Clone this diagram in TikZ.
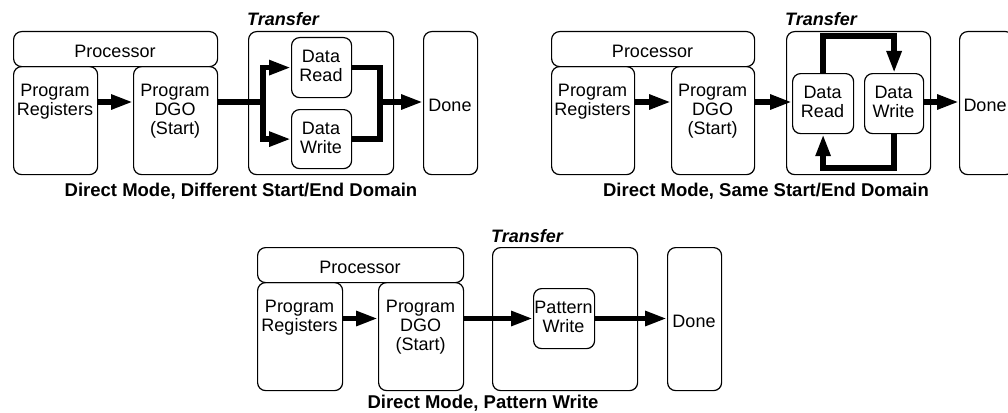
\documentclass[tikz,border=0pt]{standalone}
\usepackage{fontspec}
\setmainfont{Liberation Sans}
\usetikzlibrary{arrows.meta}
\begin{document}
\begin{tikzpicture}[x=1pt,y=-1pt,
  box/.style={draw, rounded corners=8pt, line width=1.2pt, inner sep=0pt, anchor=north west},
  txt/.style={inner sep=0pt, align=center, font=\fontsize{18}{19}\selectfont},
  capt/.style={inner sep=0pt, anchor=base, font=\fontsize{18.5}{20}\selectfont\bfseries},
  ttl/.style={inner sep=0pt, anchor=base west, font=\fontsize{18}{19}\selectfont\bfseries\itshape},
  bar/.style={line width=5.5pt, line join=miter},
  flow/.style={bar, -{Triangle[length=22pt,width=14pt]}},
  flow2/.style={bar, {Triangle[length=22pt,width=14pt]}-{Triangle[length=22pt,width=14pt]}}]
\useasboundingbox (0,0) rectangle (1008,412);
\clip (0,0) rectangle (1008,412);

% ---------- Diagram 1 ----------
\node[box, minimum width=204, minimum height=35] (proc1) at (13,31) {};
\node[box, minimum width=84, minimum height=108] (reg1) at (13,66) {};
\node[box, minimum width=84, minimum height=108] (dgo1) at (133,66) {};
\node[box, minimum width=145, minimum height=143] (tr1) at (248,31) {};
\node[box, minimum width=60, minimum height=60] (dr1) at (291,37) {};
\node[box, minimum width=60, minimum height=59] (dw1) at (291,109) {};
\node[box, minimum width=54, minimum height=143] (done1) at (423,31) {};

\node[txt, anchor=base] (proc1t) at (115,57) {Processor};
\node[txt, anchor=north] (reg1t) at (55,84.1) {Program\\Registers};
\node[txt, anchor=north] (dgo1t) at (175,84.1) {Program\\DGO\\(Start)};
\node[ttl] (tr1t) at (247,26) {Transfer};
\node[txt, anchor=north] (dr1t) at (321,50.1) {Data\\Read};
\node[txt, anchor=north] (dw1t) at (321,122.1) {Data\\Write};
\node[txt, anchor=base] (done1t) at (450,111) {Done};
\node[capt] (cap1) at (241,196) {Direct Mode, Different Start/End Domain};

\coordinate (j1) at (263,102);
\coordinate (m1) at (380,102);
\draw[flow] (reg1.east |- j1) -- (dgo1.west |- j1);
\draw[bar] (dgo1.east |- j1) -- (j1);
\draw[flow2] (dr1.west) -- (j1 |- dr1.west) -- (j1 |- dw1.west) -- (dw1.west);
\draw[bar] (dr1.east) -- (m1 |- dr1.east) -- (m1 |- dw1.east) -- (dw1.east);
\draw[flow] (m1) -- (done1.west |- m1);

% ---------- Diagram 2 ----------
\node[box, minimum width=203, minimum height=35] (proc2) at (551,31) {};
\node[box, minimum width=83, minimum height=108] (reg2) at (551,66) {};
\node[box, minimum width=83, minimum height=108] (dgo2) at (671,66) {};
\node[box, minimum width=144, minimum height=143] (tr2) at (786,31) {};
\node[box, minimum width=61, minimum height=60] (dr2) at (792,73) {};
\node[box, minimum width=59, minimum height=60] (dw2) at (864,73) {};
\node[box, minimum width=54, minimum height=143] (done2) at (959,31) {};

\node[txt, anchor=base] (proc2t) at (652.5,57) {Processor};
\node[txt, anchor=north] (reg2t) at (592.5,84.1) {Program\\Registers};
\node[txt, anchor=north] (dgo2t) at (712.5,84.1) {Program\\DGO\\(Start)};
\node[ttl] (tr2t) at (785,26) {Transfer};
\node[txt, anchor=north] (dr2t) at (822.5,86.1) {Data\\Read};
\node[txt, anchor=north] (dw2t) at (893.5,86.1) {Data\\Write};
\node[txt, anchor=base] (done2t) at (985,111) {Done};
\node[capt] (cap2) at (766,196) {Direct Mode, Same Start/End Domain};

\coordinate (y2) at (700,102);
\coordinate (t2) at (850,36);
\coordinate (b2) at (850,168);
\draw[flow] (reg2.east |- y2) -- (dgo2.west |- y2);
\draw[flow] (dgo2.east |- y2) -- (dr2.west |- y2);
\draw[flow] (dw2.east |- y2) -- (done2.west |- y2);
\draw[flow] (dr2.north) -- (dr2.north |- t2) -- (dw2.north |- t2) -- (dw2.north);
\draw[flow] (dw2.south) -- (dw2.south |- b2) -- (dr2.south |- b2) -- (dr2.south);

% ---------- Diagram 3 ----------
\node[box, minimum width=206, minimum height=35] (proc3) at (257,247) {};
\node[box, minimum width=85, minimum height=108] (reg3) at (257,282) {};
\node[box, minimum width=85, minimum height=108] (dgo3) at (378,282) {};
\node[box, minimum width=145, minimum height=143] (tr3) at (492,247) {};
\node[box, minimum width=61, minimum height=60] (pw3) at (533,288) {};
\node[box, minimum width=54, minimum height=143] (done3) at (667,247) {};

\node[txt, anchor=base] (proc3t) at (360,273) {Processor};
\node[txt, anchor=north] (reg3t) at (299.5,300.1) {Program\\Registers};
\node[txt, anchor=north] (dgo3t) at (420.5,300.1) {Program\\DGO\\(Start)};
\node[ttl] (tr3t) at (491,242) {Transfer};
\node[txt, anchor=north] (pw3t) at (563.5,301.1) {Pattern\\Write};
\node[txt, anchor=base] (done3t) at (694,327) {Done};
\node[capt] (cap3) at (483,408.3) {Direct Mode, Pattern Write};

\coordinate (y3) at (500,318.5);
\draw[flow] (reg3.east |- y3) -- (dgo3.west |- y3);
\draw[flow] (dgo3.east |- y3) -- (pw3.west |- y3);
\draw[flow] (pw3.east |- y3) -- (done3.west |- y3);
\end{tikzpicture}
\end{document}
